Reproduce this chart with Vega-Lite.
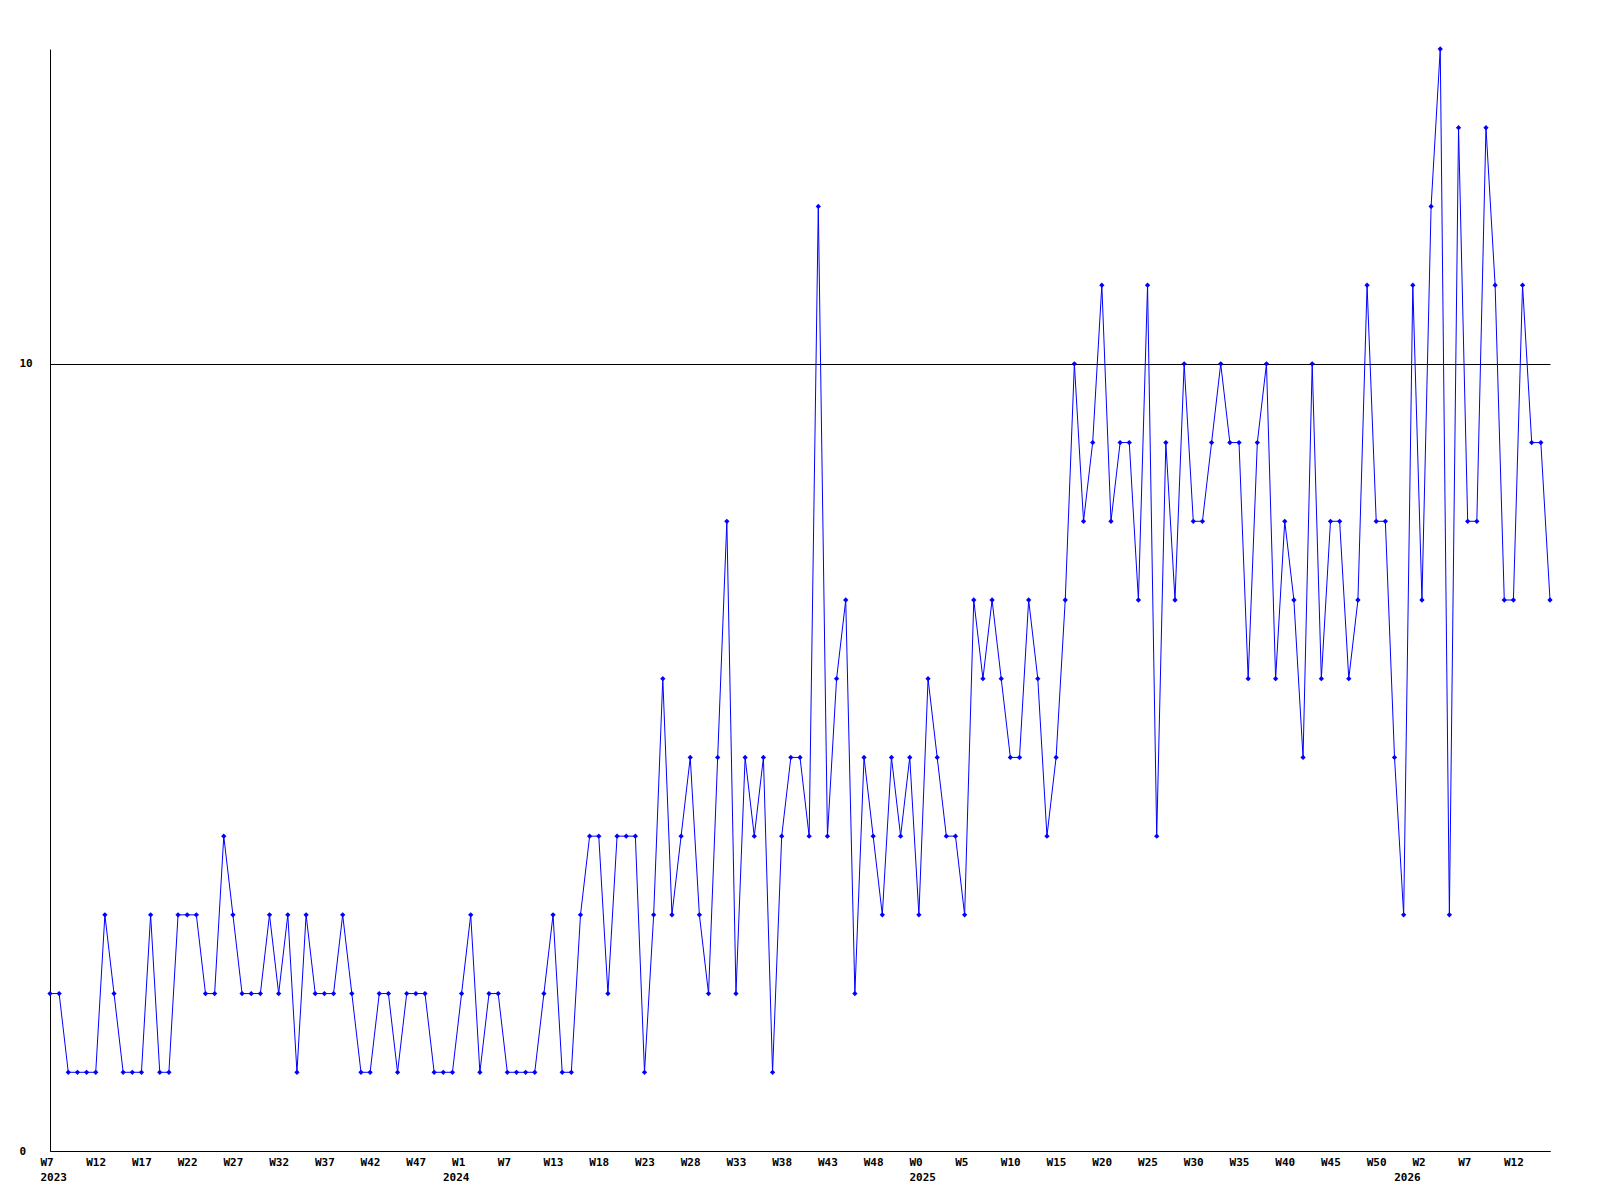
{
  "$schema": "https://vega.github.io/schema/vega-lite/v6.json",
  "width": 1500,
  "height": 1102,
  "autosize": "none",
  "padding": {"left": 50, "top": 49, "right": 50, "bottom": 49},
  "background": "white",
  "config": {
    "view": {"stroke": null},
    "axis": {
      "labelFont": "DejaVu Sans Mono",
      "labelFontWeight": "bold",
      "labelFontSize": 11,
      "labelColor": "black",
      "domainColor": "black",
      "domainWidth": 1,
      "ticks": false,
      "tickSize": 0,
      "title": null,
      "labelOverlap": false,
      "labelFlush": false,
      "labelBound": false
    }
  },
  "data": {"values": [
    {"i":0,"v":2},{"i":1,"v":2},{"i":2,"v":1},{"i":3,"v":1},{"i":4,"v":1},{"i":5,"v":1},{"i":6,"v":3},{"i":7,"v":2},{"i":8,"v":1},{"i":9,"v":1},
    {"i":10,"v":1},{"i":11,"v":3},{"i":12,"v":1},{"i":13,"v":1},{"i":14,"v":3},{"i":15,"v":3},{"i":16,"v":3},{"i":17,"v":2},{"i":18,"v":2},{"i":19,"v":4},
    {"i":20,"v":3},{"i":21,"v":2},{"i":22,"v":2},{"i":23,"v":2},{"i":24,"v":3},{"i":25,"v":2},{"i":26,"v":3},{"i":27,"v":1},{"i":28,"v":3},{"i":29,"v":2},
    {"i":30,"v":2},{"i":31,"v":2},{"i":32,"v":3},{"i":33,"v":2},{"i":34,"v":1},{"i":35,"v":1},{"i":36,"v":2},{"i":37,"v":2},{"i":38,"v":1},{"i":39,"v":2},
    {"i":40,"v":2},{"i":41,"v":2},{"i":42,"v":1},{"i":43,"v":1},{"i":44,"v":1},{"i":45,"v":2},{"i":46,"v":3},{"i":47,"v":1},{"i":48,"v":2},{"i":49,"v":2},
    {"i":50,"v":1},{"i":51,"v":1},{"i":52,"v":1},{"i":53,"v":1},{"i":54,"v":2},{"i":55,"v":3},{"i":56,"v":1},{"i":57,"v":1},{"i":58,"v":3},{"i":59,"v":4},
    {"i":60,"v":4},{"i":61,"v":2},{"i":62,"v":4},{"i":63,"v":4},{"i":64,"v":4},{"i":65,"v":1},{"i":66,"v":3},{"i":67,"v":6},{"i":68,"v":3},{"i":69,"v":4},
    {"i":70,"v":5},{"i":71,"v":3},{"i":72,"v":2},{"i":73,"v":5},{"i":74,"v":8},{"i":75,"v":2},{"i":76,"v":5},{"i":77,"v":4},{"i":78,"v":5},{"i":79,"v":1},
    {"i":80,"v":4},{"i":81,"v":5},{"i":82,"v":5},{"i":83,"v":4},{"i":84,"v":12},{"i":85,"v":4},{"i":86,"v":6},{"i":87,"v":7},{"i":88,"v":2},{"i":89,"v":5},
    {"i":90,"v":4},{"i":91,"v":3},{"i":92,"v":5},{"i":93,"v":4},{"i":94,"v":5},{"i":95,"v":3},{"i":96,"v":6},{"i":97,"v":5},{"i":98,"v":4},{"i":99,"v":4},
    {"i":100,"v":3},{"i":101,"v":7},{"i":102,"v":6},{"i":103,"v":7},{"i":104,"v":6},{"i":105,"v":5},{"i":106,"v":5},{"i":107,"v":7},{"i":108,"v":6},{"i":109,"v":4},
    {"i":110,"v":5},{"i":111,"v":7},{"i":112,"v":10},{"i":113,"v":8},{"i":114,"v":9},{"i":115,"v":11},{"i":116,"v":8},{"i":117,"v":9},{"i":118,"v":9},{"i":119,"v":7},
    {"i":120,"v":11},{"i":121,"v":4},{"i":122,"v":9},{"i":123,"v":7},{"i":124,"v":10},{"i":125,"v":8},{"i":126,"v":8},{"i":127,"v":9},{"i":128,"v":10},{"i":129,"v":9},
    {"i":130,"v":9},{"i":131,"v":6},{"i":132,"v":9},{"i":133,"v":10},{"i":134,"v":6},{"i":135,"v":8},{"i":136,"v":7},{"i":137,"v":5},{"i":138,"v":10},{"i":139,"v":6},
    {"i":140,"v":8},{"i":141,"v":8},{"i":142,"v":6},{"i":143,"v":7},{"i":144,"v":11},{"i":145,"v":8},{"i":146,"v":8},{"i":147,"v":5},{"i":148,"v":3},{"i":149,"v":11},
    {"i":150,"v":7},{"i":151,"v":12},{"i":152,"v":14},{"i":153,"v":3},{"i":154,"v":13},{"i":155,"v":8},{"i":156,"v":8},{"i":157,"v":13},{"i":158,"v":11},{"i":159,"v":7},
    {"i":160,"v":7},{"i":161,"v":11},{"i":162,"v":9},{"i":163,"v":9},{"i":164,"v":7}
  ]},
  "layer": [
    {
      "mark": {"type": "line", "color": "#0000ff", "strokeWidth": 1},
      "encoding": {
        "x": {
          "field": "i", "type": "quantitative",
          "scale": {"domain": [0, 164], "nice": false, "zero": false},
          "axis": {
            "orient": "bottom",
            "values": [0,5,10,15,20,25,30,35,40,45,50,55,60,65,70,75,80,85,90,95,100,105,110,115,120,125,130,135,140,145,150,155,160],
            "labelExpr": "['W7','W12','W17','W22','W27','W32','W37','W42','W47','W1','W7','W13','W18','W23','W28','W33','W38','W43','W48','W0','W5','W10','W15','W20','W25','W30','W35','W40','W45','W50','W2','W7','W12'][round(datum.value/5)]",
            "labelAlign": "left",
            "labelOffset": -10,
            "labelBaseline": "top",
            "labelPadding": 5,
            "grid": false,
            "domain": true
          }
        },
        "y": {
          "field": "v", "type": "quantitative",
          "scale": {"domain": [0, 14], "nice": false, "zero": true},
          "axis": {
            "orient": "left",
            "values": [0, 10],
            "labelAlign": "left",
            "labelBaseline": "middle",
            "labelPadding": 31,
            "grid": true,
            "gridColor": "black",
            "gridOpacity": 1,
            "gridWidth": 1,
            "domain": true
          }
        }
      }
    },
    {
      "mark": {"type": "point", "shape": "diamond", "filled": true, "size": 28, "color": "#0000ff", "opacity": 1},
      "encoding": {
        "x": {
          "field": "i", "type": "quantitative",
          "axis": {
            "orient": "bottom",
            "values": [0, 44, 95, 148],
            "labelExpr": "datum.value == 0 ? '2023' : datum.value == 44 ? '2024' : datum.value == 95 ? '2025' : '2026'",
            "labelAlign": "left",
            "labelOffset": -10,
            "labelBaseline": "top",
            "labelPadding": 20,
            "grid": false,
            "domain": false
          }
        },
        "y": {"field": "v", "type": "quantitative", "axis": null}
      }
    }
  ],
  "resolve": {"axis": {"x": "independent", "y": "independent"}}
}
